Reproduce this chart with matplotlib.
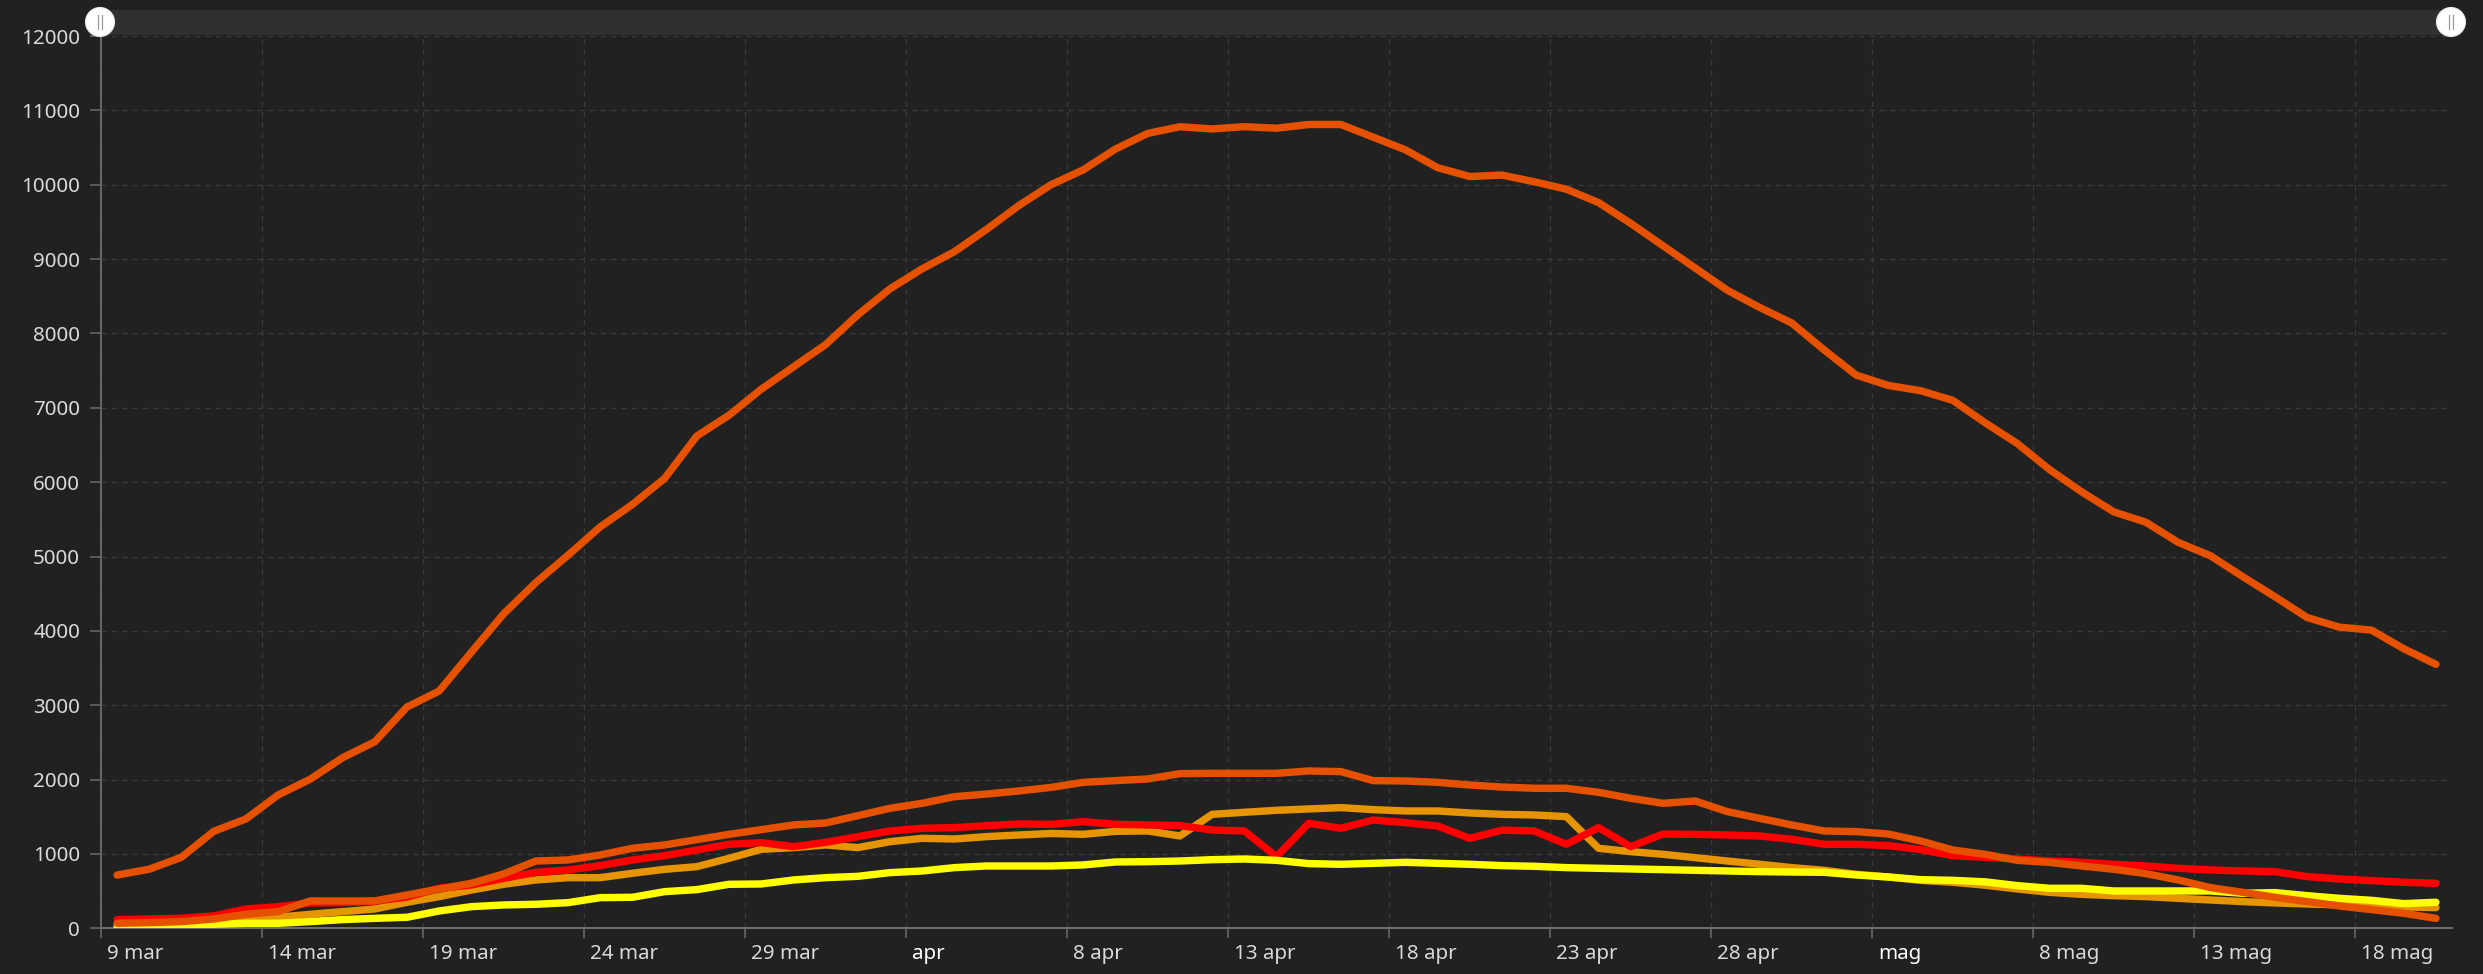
import matplotlib
matplotlib.use("Agg")
import matplotlib.pyplot as plt
from matplotlib.patches import Rectangle, Circle
from matplotlib.transforms import ScaledTranslation
import numpy as np
import pandas as pd

# ---- data -------------------------------------------------------------
dates = pd.date_range("2020-03-09", "2020-05-20", freq="D")

series_big = [716, 795, 956, 1304, 1471, 1793, 2006, 2294, 2508, 2976,
              3191, 3713, 4228, 4649, 5017, 5398, 5700, 6050, 6620, 6900,
              7250, 7550, 7850, 8250, 8600, 8870, 9100, 9400, 9720, 10000,
              10200, 10480, 10690, 10780, 10750, 10780, 10760, 10810, 10810, 10640,
              10470, 10230, 10110, 10130, 10040, 9940, 9760, 9480, 9180, 8880,
              8580, 8350, 8140, 7780, 7440, 7300, 7230, 7100, 6800, 6520,
              6170, 5870, 5600, 5460, 5190, 5010, 4730, 4460, 4180, 4050,
              4010, 3760, 3550]

series_orange = [67, 76, 90, 125, 188, 224, 368, 368, 368, 448,
                 529, 605, 731, 905, 919, 986, 1076, 1121, 1192, 1264,
                 1327, 1390, 1416, 1515, 1614, 1681, 1770, 1806, 1847, 1895,
                 1963, 1986, 2008, 2080, 2084, 2084, 2084, 2116, 2107, 1986,
                 1981, 1963, 1927, 1900, 1883, 1883, 1829, 1748, 1681, 1712,
                 1569, 1479, 1390, 1309, 1300, 1268, 1174, 1053, 995, 914,
                 887, 838, 793, 735, 650, 547, 484, 417, 359, 300,
                 251, 202, 134]

series_red = [117, 125, 135, 166, 260, 291, 340, 345, 365, 420,
              538, 583, 672, 753, 784, 843, 919, 977, 1053, 1130,
              1152, 1098, 1156, 1233, 1309, 1345, 1354, 1380, 1403, 1398,
              1434, 1398, 1390, 1381, 1322, 1309, 964, 1412, 1345, 1457,
              1421, 1376, 1210, 1320, 1309, 1130, 1354, 1098, 1268, 1264,
              1255, 1242, 1197, 1130, 1130, 1112, 1058, 977, 955, 932,
              905, 887, 861, 838, 807, 784, 771, 762, 695, 663,
              641, 619, 605]

series_amber = [54, 63, 72, 90, 120, 150, 188, 224, 260, 350,
                426, 515, 592, 650, 681, 681, 740, 793, 829, 941,
                1062, 1085, 1121, 1085, 1165, 1210, 1201, 1233, 1255, 1275,
                1264, 1304, 1309, 1242, 1533, 1560, 1587, 1605, 1623, 1596,
                1578, 1578, 1551, 1533, 1524, 1502, 1076, 1031, 995, 950,
                905, 861, 816, 780, 726, 690, 645, 619, 580, 529,
                484, 457, 439, 426, 403, 381, 359, 341, 327, 314,
                300, 287, 278]

series_yellow = [18, 27, 36, 54, 67, 67, 90, 117, 134, 148,
                 233, 291, 314, 323, 345, 412, 417, 493, 520, 592,
                 596, 650, 681, 699, 749, 771, 816, 838, 838, 838,
                 852, 892, 896, 905, 923, 932, 914, 870, 861, 874,
                 887, 874, 861, 843, 834, 816, 807, 798, 789, 780,
                 771, 762, 757, 753, 717, 690, 654, 645, 625, 574,
                 538, 538, 502, 502, 502, 502, 471, 480, 439, 403,
                 376, 332, 350]

tick_labels = ["9 mar", "14 mar", "19 mar", "24 mar", "29 mar", "apr",
               "8 apr", "13 apr", "18 apr", "23 apr", "28 apr", "mag",
               "8 mag", "13 mag", "18 mag"]
month_labels = {"apr", "mag"}
y_ticks = list(range(0, 12001, 1000))

# ---- style ------------------------------------------------------------
BG = "#212121"
GRID = "#3b3b3b"
TEXT = "#d9d9d9"
W, H = 2483, 974
DPI = 100
PX = 72.0 / DPI  # points per pixel

plt.rcParams["font.family"] = ["Noto Sans", "DejaVu Sans"]

fig = plt.figure(figsize=(W / DPI, H / DPI), dpi=DPI, facecolor=BG)

left, right, y0, ytop = 101, 2452, 928.3, 36.0
ax = fig.add_axes([left / W, (H - y0) / H, (right - left) / W, (y0 - ytop) / H])
ax.set_facecolor(BG)

# day index: each point sits in the middle of its day cell
x = np.arange(len(dates)) + 0.5
ax.set_xlim(0, len(dates))
ax.set_ylim(0, 12000)

line_w = 7.4 * PX
styles = [
    (series_amber, "#e69500", 2),
    (series_red, "#ff0000", 3),
    (series_yellow, "#ffff00", 4),
    (series_orange, "#e65100", 5),
    (series_big, "#e65100", 6),
]
for vals, col, z in styles:
    ax.plot(x, vals, color=col, lw=line_w, zorder=z,
            solid_joinstyle="round", solid_capstyle="round")

# grid
ax.set_yticks(y_ticks)
ax.set_yticklabels([str(v) for v in y_ticks])
xt = np.arange(0, 5 * len(tick_labels), 5)
ax.set_xticks(xt)
ax.set_xticklabels(tick_labels)
ax.grid(True, color=GRID, lw=1.3 * PX, linestyle=(0, (4, 4)), zorder=0)
ax.set_axisbelow(True)

for s in ("top", "right"):
    ax.spines[s].set_visible(False)
ax.spines["left"].set_color("#666666")
ax.spines["left"].set_linewidth(2 * PX)
ax.spines["bottom"].set_color("#6e6e6e")
ax.spines["bottom"].set_linewidth(2 * PX)

ax.tick_params(axis="y", colors="#6e6e6e", length=11 * PX, width=1.5 * PX,
               pad=10 * PX, labelsize=14.8, labelcolor=TEXT)
ax.tick_params(axis="x", colors="#6e6e6e", length=10 * PX, width=1.5 * PX,
               pad=6 * PX, labelsize=14.8, labelcolor=TEXT)

shift = ScaledTranslation(6 / DPI, 0, fig.dpi_scale_trans)
for lab in ax.get_xticklabels():
    lab.set_horizontalalignment("left")
    lab.set_transform(lab.get_transform() + shift)
    if lab.get_text() in month_labels:
        lab.set_fontweight("bold")
        lab.set_color("#ffffff")

# ---- scrollbar overlay (pixel coordinates) -----------------------------
ov = fig.add_axes([0, 0, 1, 1], zorder=10)
ov.set_xlim(0, W)
ov.set_ylim(H, 0)
ov.axis("off")
ov.patch.set_alpha(0)
ov.add_patch(Rectangle((100, 10), 2351, 25, facecolor="#303030",
                       edgecolor="none"))
for cx in (100, 2451):
    ov.add_patch(Circle((cx, 22), 14.5, facecolor="#ffffff",
                        edgecolor="#e8e8e8", lw=0.8))
    for dx in (-2.2, 2.2):
        ov.plot([cx + dx, cx + dx], [15, 29], color="#9a9a9a", lw=1.2 * PX)

fig.savefig("out.png", dpi=DPI, facecolor=BG)
